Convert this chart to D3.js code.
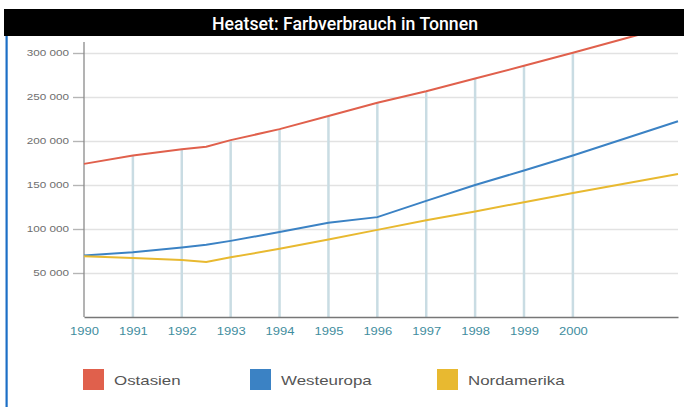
<!DOCTYPE html>
<html>
<head>
<meta charset="utf-8">
<script src="https://cdn.jsdelivr.net/npm/d3@7"></script>
<style>
  body { margin: 0; background: #fff; }
  svg { display: block; }
</style>
</head>
<body>
<div id="chart"></div>
<script>
// data (Tonnen)
const years = [1990, 1991, 1992, 1992.5, 1993, 1994, 1995, 1996, 1997, 1998, 1999, 2000, 2002.15]
const ostasien = [174000, 183500, 190500, 193500, 201000, 213500, 228500, 243500, 256500, 271000, 285500, 300300, 333000]
const westeuropa = [70000, 73500, 79000, 82000, 86500, 96500, 107000, 113500, 132000, 150000, 166500, 183500, 222500]
const nordamerika = [69000, 67000, 64800, 62500, 67800, 77500, 88000, 99000, 110000, 120000, 130500, 141000, 162500]
const tickYears = [1990, 1991, 1992, 1993, 1994, 1995, 1996, 1997, 1998, 1999, 2000]
const dropYears = [1991, 1992, 1993, 1994, 1995, 1996, 1997, 1998, 1999, 2000]
const yTicks = [50000, 100000, 150000, 200000, 250000, 300000]
const seriesNames = ["Ostasien", "Westeuropa", "Nordamerika"]
const seriesColors = ["#e0604c", "#3b82c4", "#e8b930"]

const WIDTH = 684, HEIGHT = 407
const PLOT = { LEFT: 84, RIGHT: 678, TOP: 42, BOTTOM: 317 }
const SX = 1.3 // the original type is stretched sideways

const svg = d3.select("#chart").append("svg")
    .attr("width", WIDTH)
    .attr("height", HEIGHT)

const x = d3.scaleLinear()
    .domain([1990, 2002.15])
    .range([PLOT.LEFT, PLOT.RIGHT])

const y = d3.scaleLinear()
    .domain([0, 312500])
    .range([PLOT.BOTTOM, PLOT.TOP])

const de = d3.formatLocale({ decimal: ",", thousands: " ", grouping: [3], currency: ["", " €"] })

function stretch(sel) {
    sel.each(function() {
        const t = d3.select(this)
        const tx = +t.attr("x") || 0
        t.attr("x", 0).attr("transform", `translate(${tx},0) scale(${SX},1)`)
    })
}

// y axis + grid
const yAxis = svg.append("g")
    .attr("transform", `translate(${PLOT.LEFT},0)`)
    .call(d3.axisLeft(y)
        .tickValues(yTicks)
        .tickSizeInner(-(PLOT.RIGHT - PLOT.LEFT))
        .tickSizeOuter(0)
        .tickPadding(15)
        .tickFormat(de.format(",")))
yAxis.select(".domain").remove()
yAxis.selectAll(".tick line")
    .attr("x1", -11)
    .attr("stroke", "#e2e2e2")
    .attr("stroke-width", 1.5)
yAxis.selectAll(".tick")
    .append("line")
    .attr("x1", -11).attr("x2", 0)
    .attr("stroke", "#b5b5b5")
    .attr("stroke-width", 1.2)
yAxis.selectAll(".tick text")
    .attr("fill", "#6e6e6e")
    .style("font-family", "Liberation Sans, Arial, sans-serif")
    .style("font-size", "9px")
    .call(stretch)

// drop lines from Ostasien down to the axis
svg.append("g")
    .selectAll("line")
    .data(dropYears)
    .enter()
    .append("line")
        .attr("x1", d => x(d))
        .attr("x2", d => x(d))
        .attr("y1", y(0))
        .attr("y2", d => y(ostasien[years.indexOf(d)]))
        .attr("stroke", "#c9dce3")
        .attr("stroke-width", 2.5)

// axis lines
svg.append("line")
    .attr("x1", PLOT.LEFT).attr("x2", PLOT.LEFT)
    .attr("y1", PLOT.TOP).attr("y2", PLOT.BOTTOM)
    .attr("stroke", "#8a8a8a")
    .attr("stroke-width", 1.3)

const xAxis = svg.append("g")
    .attr("transform", `translate(0,${PLOT.BOTTOM})`)
    .call(d3.axisBottom(x)
        .tickValues(tickYears)
        .tickSize(0)
        .tickPadding(11)
        .tickFormat(d3.format("d")))
xAxis.select(".domain")
    .attr("stroke", "#777")
    .attr("stroke-width", 1.5)
xAxis.selectAll(".tick text")
    .attr("fill", "#3f8d9e")
    .style("font-family", "Liberation Sans, Arial, sans-serif")
    .style("font-size", "10px")
    .call(stretch)

// series lines
const line = d3.line()
    .x((d, i) => x(years[i]))
    .y(d => y(d))

const allSeries = [ostasien, westeuropa, nordamerika]
svg.append("g")
    .selectAll("path")
    .data(allSeries)
    .enter()
    .append("path")
        .attr("d", line)
        .attr("fill", "none")
        .attr("stroke", (d, i) => seriesColors[i])
        .attr("stroke-width", 2)

// title bar (sits on top of the red line)
svg.append("rect")
    .attr("x", 4).attr("y", 9)
    .attr("width", WIDTH - 4).attr("height", 27)
    .attr("fill", "#000")
svg.append("text")
    .attr("x", 345).attr("y", 29.5)
    .attr("text-anchor", "middle")
    .attr("fill", "#fff")
    .attr("textLength", 266)
    .attr("lengthAdjust", "spacingAndGlyphs")
    .style("font-family", "Roboto, Liberation Sans, sans-serif")
    .style("font-weight", 500)
    .style("font-size", "19px")
    .text("Heatset: Farbverbrauch in Tonnen")

// left blue rule
svg.append("rect")
    .attr("x", 5.5).attr("y", 36)
    .attr("width", 2.2).attr("height", HEIGHT - 36)
    .attr("fill", "#1c6fc6")

// legend
const legendX = [83, 250, 437]
const legend = svg.append("g")
    .selectAll("g")
    .data(seriesNames)
    .enter()
    .append("g")
        .attr("transform", (d, i) => `translate(${legendX[i]},369)`)
legend.append("rect")
    .attr("width", 21).attr("height", 21)
    .attr("fill", (d, i) => seriesColors[i])
legend.append("text")
    .attr("transform", `translate(31,16) scale(${SX},1)`)
    .attr("fill", "#555")
    .style("font-family", "Liberation Sans, Arial, sans-serif")
    .style("font-size", "13px")
    .text(d => d)
</script>
</body>
</html>
